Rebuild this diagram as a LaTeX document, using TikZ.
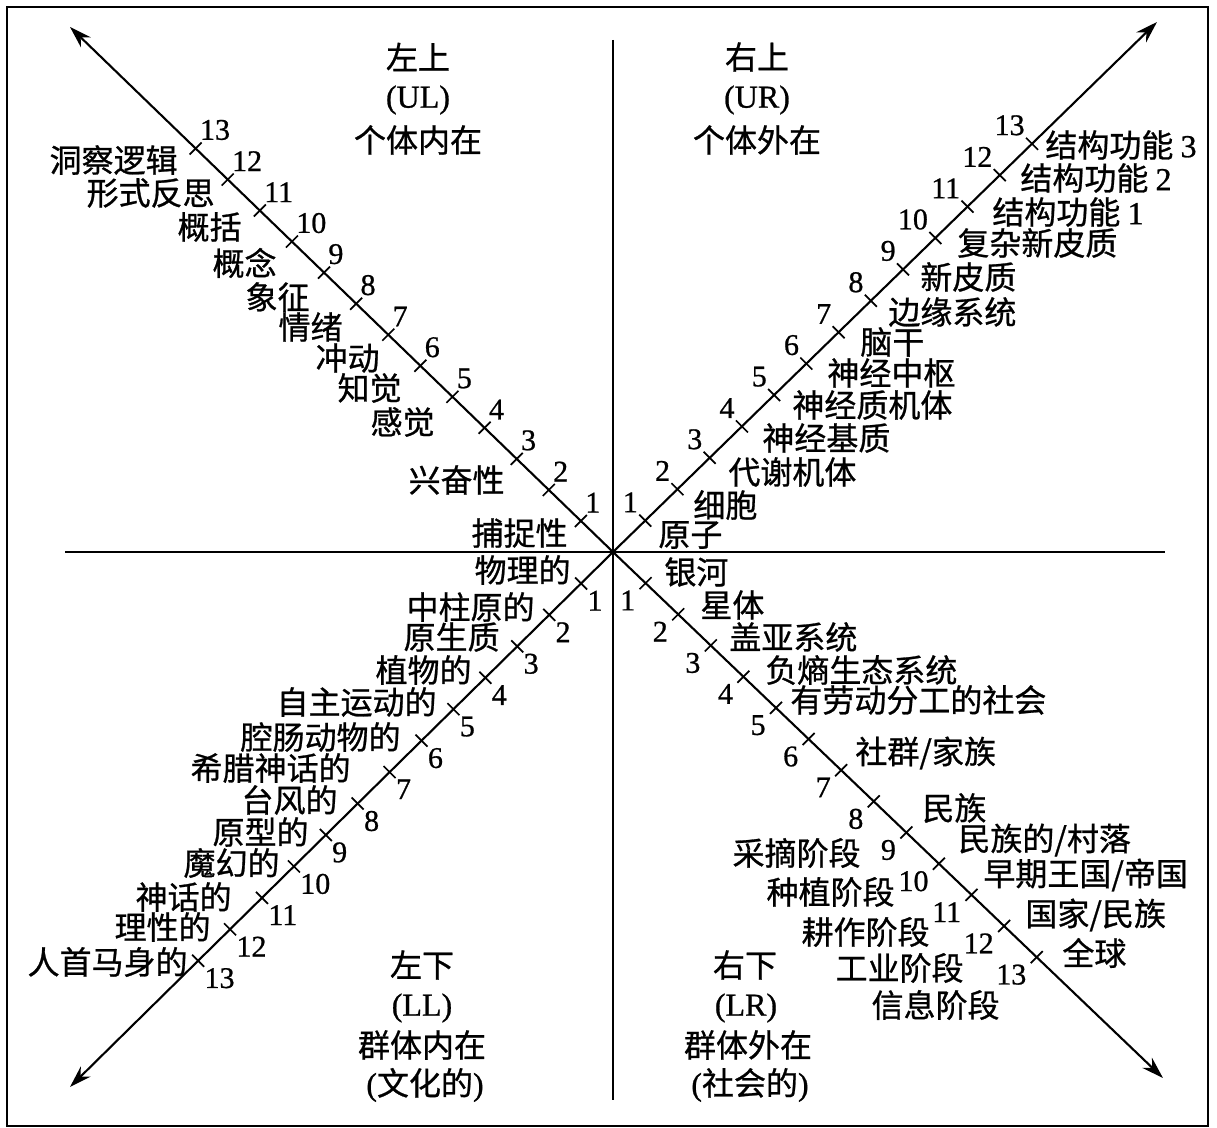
\documentclass[tikz,border=0pt]{standalone}
\usepackage{fontspec}
\setmainfont{Liberation Serif}[RawFeature={embolden=0.8}]
\newfontfamily\cjk{Noto Sans CJK SC}[RawFeature={embolden=0.8}]
\usetikzlibrary{calc,arrows.meta}
\begin{document}
\begin{tikzpicture}[x=0.5pt,y=-0.5pt,
  ax/.style={line width=1.3pt},
  frm/.style={line width=1.4pt},
  diag/.style={line width=1.05pt,-{Stealth[length=11pt,width=7pt]}},
  tk/.style={line width=0.85pt},
  num/.style={inner sep=0pt,font=\fontsize{15pt}{15pt}\selectfont},
  lbl/.style={inner sep=0pt,font=\fontsize{16pt}{18pt}\selectfont\cjk},
  ttl/.style={inner sep=0pt,font=\fontsize{16pt}{18pt}\selectfont\cjk}
]
\useasboundingbox (0,0) rectangle (1217,1128);
\draw[frm] (7,7) rectangle (1208,1126);

% axes
\coordinate (c) at (613,552);
\coordinate (vtop) at (613,40);
\coordinate (vbot) at (613,1100);
\coordinate (hl) at (65,552);
\coordinate (hr) at (1165,552);
\draw[ax] (vtop) -- (vbot);
\draw[ax] (hl) -- (hr);

% diagonals
\coordinate (ulend) at (70,27);
\coordinate (urend) at (1157,22);
\coordinate (llend) at (70,1087);
\coordinate (lrend) at (1163,1078);
\foreach \e in {ulend,urend,llend,lrend} \draw[diag] (c) -- (\e);

% ticks and numbers
\foreach \k in {1,...,13} {
  \coordinate (ul\k) at ($(c)!\k*22.33pt!(ulend)$);
  \coordinate (ur\k) at ($(c)!\k*22.5pt!(urend)$);
  \coordinate (ll\k) at ($(c)!\k*22.4pt!(llend)$);
  \coordinate (lr\k) at ($(c)!\k*22.55pt!(lrend)$);
  \draw[tk] ($(ul\k)+(-6,6)$) -- ($(ul\k)+(6,-6)$);
  \draw[tk] ($(ur\k)+(-6,-6)$) -- ($(ur\k)+(6,6)$);
  \draw[tk] ($(ll\k)+(-6,-6)$) -- ($(ll\k)+(6,6)$);
  \draw[tk] ($(lr\k)+(-6,6)$) -- ($(lr\k)+(6,-6)$);
  \node[num,anchor=south west] (nul\k) at ($(ul\k)+(4,-8)$) {\k};
  \node[num,anchor=south east] (nur\k) at ($(ur\k)+(-7,-8)$) {\k};
  \node[num,anchor=north west] (nll\k) at ($(ll\k)+(6,7)$) {\k};
  \node[num,anchor=north east] (nlr\k) at ($(lr\k)+(-10,7)$) {\k};
}

% quadrant titles
\node[ttl] (t1a) at (418,57) {左上};
\node[ttl] (t1b) at (418,100) {\rmfamily (UL)};
\node[ttl] (t1c) at (418,140) {个体内在};
\node[ttl] (t2a) at (757,57) {右上};
\node[ttl] (t2b) at (757,100) {\rmfamily (UR)};
\node[ttl] (t2c) at (757,140) {个体外在};
\node[ttl] (t3a) at (422,965) {左下};
\node[ttl] (t3b) at (422,1008) {\rmfamily (LL)};
\node[ttl] (t3c) at (422,1045) {群体内在};
\node[ttl] (t3d) at (425,1085) {{\rmfamily (}文化的{\rmfamily )}};
\node[ttl] (t4a) at (745,965) {右下};
\node[ttl] (t4b) at (746,1008) {\rmfamily (LR)};
\node[ttl] (t4c) at (748,1045) {群体外在};
\node[ttl] (t4d) at (750,1085) {{\rmfamily (}社会的{\rmfamily )}};

% UL labels
\node[lbl,anchor=east] (a1) at (178,160) {洞察逻辑};
\node[lbl,anchor=east] (a2) at (215,193) {形式反思};
\node[lbl,anchor=east] (a3) at (242,227) {概括};
\node[lbl,anchor=east] (a4) at (277,263) {概念};
\node[lbl,anchor=east] (a5) at (310,297) {象征};
\node[lbl,anchor=east] (a6) at (343,327) {情绪};
\node[lbl,anchor=east] (a7) at (380,358) {冲动};
\node[lbl,anchor=east] (a8) at (402,388) {知觉};
\node[lbl,anchor=east] (a9) at (435,422) {感觉};
\node[lbl,anchor=east] (a10) at (505,480) {兴奋性};
\node[lbl,anchor=east] (a11) at (568,533) {捕捉性};

% UR labels
\node[lbl,anchor=west] (b1) at (658,535) {原子};
\node[lbl,anchor=west] (b2) at (693,505) {细胞};
\node[lbl,anchor=west] (b3) at (728,472) {代谢机体};
\node[lbl,anchor=west] (b4) at (762,438) {神经基质};
\node[lbl,anchor=west] (b5) at (792,405) {神经质机体};
\node[lbl,anchor=west] (b6) at (827,373) {神经中枢};
\node[lbl,anchor=west] (b7) at (860,342) {脑干};
\node[lbl,anchor=west] (b8) at (888,312) {边缘系统};
\node[lbl,anchor=west] (b9) at (920,277) {新皮质};
\node[lbl,anchor=west] (b10) at (957,243) {复杂新皮质};
\node[lbl,anchor=west] (b11) at (992,212) {结构功能 {\rmfamily 1}};
\node[lbl,anchor=west] (b12) at (1020,178) {结构功能 {\rmfamily 2}};
\node[lbl,anchor=west] (b13) at (1045,145) {结构功能 {\rmfamily 3}};

% LL labels
\node[lbl,anchor=east] (c1) at (571,570) {物理的};
\node[lbl,anchor=east] (c2) at (535,607) {中柱原的};
\node[lbl,anchor=east] (c3) at (500,637) {原生质};
\node[lbl,anchor=east] (c4) at (472,670) {植物的};
\node[lbl,anchor=east] (c5) at (437,702) {自主运动的};
\node[lbl,anchor=east] (c6) at (401,737) {腔肠动物的};
\node[lbl,anchor=east] (c7) at (351,768) {希腊神话的};
\node[lbl,anchor=east] (c8) at (338,800) {台风的};
\node[lbl,anchor=east] (c9) at (309,832) {原型的};
\node[lbl,anchor=east] (c10) at (280,863) {魔幻的};
\node[lbl,anchor=east] (c11) at (232,897) {神话的};
\node[lbl,anchor=east] (c12) at (211,927) {理性的};
\node[lbl,anchor=east] (c13) at (188,962) {人首马身的};

% LR labels
\node[lbl,anchor=west] (d1) at (664,572) {银河};
\node[lbl,anchor=west] (d2) at (700,605) {星体};
\node[lbl,anchor=west] (d3) at (729,637) {盖亚系统};
\node[lbl,anchor=west] (d4) at (765,670) {负熵生态系统};
\node[lbl,anchor=west] (d5) at (790,700) {有劳动分工的社会};
\node[lbl,anchor=west] (d6) at (855,753) {社群/家族};
\node[lbl,anchor=west] (d7) at (922,808) {民族};
\node[lbl,anchor=west] (d8) at (958,840) {民族的/村落};
\node[lbl,anchor=west] (d9) at (983,875) {早期王国/帝国};
\node[lbl,anchor=west] (d10) at (1025,915) {国家/民族};
\node[lbl,anchor=west] (d11) at (1062,953) {全球};
\node[lbl,anchor=east] (e1) at (861,853) {采摘阶段};
\node[lbl,anchor=east] (e2) at (895,892) {种植阶段};
\node[lbl,anchor=east] (e3) at (930,932) {耕作阶段};
\node[lbl,anchor=east] (e4) at (964,968) {工业阶段};
\node[lbl,anchor=east] (e5) at (1000,1005) {信息阶段};
\end{tikzpicture}
\end{document}
